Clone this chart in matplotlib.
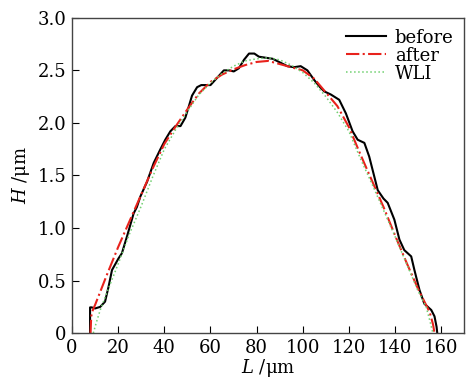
import matplotlib.pyplot as plt

# profile data (L in um, H in um)
L_before = [7.8, 7.8, 8.5, 10.0, 12.2, 14.3, 15.8, 17.3, 20.1, 21.6, 23.8, 26.7, 28.1,
            29.6, 32.5, 35.4, 38.3, 40.4, 42.6, 44.8, 47.0, 49.1, 50.5, 52.0, 54.2,
            56.0, 60.0, 62.9, 65.8, 68.0, 70.1, 72.3, 74.5, 76.7, 79.0, 81.0, 84.0,
            87.0, 89.7, 93.3, 96.2, 99.1, 102.0, 104.9, 107.5, 109.3, 112.2, 115.8,
            118.7, 121.6, 123.8, 126.7, 128.8, 131.0, 132.5, 135.0, 136.8, 139.7,
            141.9, 144.0, 147.0, 148.4, 150.6, 152.7, 155.7, 157.1, 158.0, 158.3]
H_before = [0.0, 0.245, 0.245, 0.235, 0.25, 0.30, 0.44, 0.60, 0.71, 0.76, 0.92, 1.14, 1.20,
            1.30, 1.44, 1.62, 1.75, 1.84, 1.92, 1.97, 1.97, 2.05, 2.15, 2.26, 2.34,
            2.36, 2.36, 2.43, 2.50, 2.50, 2.49, 2.52, 2.60, 2.66, 2.66, 2.63, 2.62,
            2.61, 2.58, 2.54, 2.53, 2.54, 2.50, 2.41, 2.34, 2.30, 2.27, 2.22,
            2.09, 1.92, 1.84, 1.81, 1.68, 1.49, 1.36, 1.28, 1.24, 1.08,
            0.89, 0.79, 0.73, 0.60, 0.41, 0.28, 0.22, 0.16, 0.06, 0.0]

L_after = [8.0, 8.3, 9.0, 10, 15, 20, 25, 30, 35, 40, 45, 50, 55, 60, 65, 70, 75,
           80, 85, 90, 95, 100, 105, 110, 115, 120, 125, 130, 135, 140, 145, 150,
           155, 156.5, 157.1]
H_after = [0.0, 0.16, 0.22, 0.27, 0.55, 0.82, 1.07, 1.32, 1.57, 1.8, 1.97, 2.13, 2.28,
           2.39, 2.46, 2.51, 2.55, 2.58, 2.59, 2.56, 2.53, 2.5, 2.42, 2.29, 2.16,
           1.96, 1.7, 1.45, 1.2, 0.93, 0.67, 0.42, 0.2, 0.08, 0.0]

L_wli = [9.2, 10.5, 12.2, 15, 20, 25, 30, 35, 40, 45, 50, 55, 60, 65, 70, 75, 80,
         85, 90, 95, 100, 105, 110, 115, 120, 125, 130, 135, 140, 145, 150, 153.5,
         155.3, 156.4]
H_wli = [0.0, 0.1, 0.22, 0.38, 0.66, 0.95, 1.21, 1.49, 1.75, 1.94, 2.11, 2.27, 2.38,
         2.47, 2.54, 2.59, 2.61, 2.62, 2.6, 2.55, 2.48, 2.38, 2.25, 2.1, 1.92,
         1.66, 1.42, 1.17, 0.92, 0.66, 0.4, 0.25, 0.1, 0.0]

xticks = [0, 20, 40, 60, 80, 100, 120, 140, 160]
yticks = [0, 0.5, 1.0, 1.5, 2.0, 2.5, 3.0]
ytick_labels = ['0', '0.5', '1.0', '1.5', '2.0', '2.5', '3.0']

plt.rcParams['font.family'] = ['DejaVu Serif']
plt.rcParams['mathtext.fontset'] = 'dejavuserif'

fig = plt.figure(figsize=(4.68, 3.79), dpi=100)
ax = fig.add_axes([0.154, 0.121, 0.838, 0.832])

ax.plot(L_before, H_before, color='black', lw=1.5, label='before')
ax.plot(L_after, H_after, color='#e8221c', lw=1.5, ls='-.', label='after')
ax.plot(L_wli, H_wli, color='#6fd06f', lw=1.1, ls=':', label='WLI')

ax.set_xlim(0, 170)
ax.set_ylim(0, 3.0)
ax.set_xticks(xticks)
ax.set_yticks(yticks)
ax.set_yticklabels(ytick_labels)
ax.tick_params(direction='in', labelsize=13, length=5, top=False, right=False, pad=4)
for s in ax.spines.values():
    s.set_color('#444444')
    s.set_linewidth(1.0)

ax.set_xlabel(r'$L$ /μm', fontsize=13, labelpad=0)
ax.set_ylabel(r'$H$ /μm', fontsize=13, labelpad=4)

ax.legend(loc='upper right', frameon=False, fontsize=13, handlelength=2.2,
          borderaxespad=0.2, labelspacing=0.0, handletextpad=0.5)

fig.savefig('out.png', dpi=100)
